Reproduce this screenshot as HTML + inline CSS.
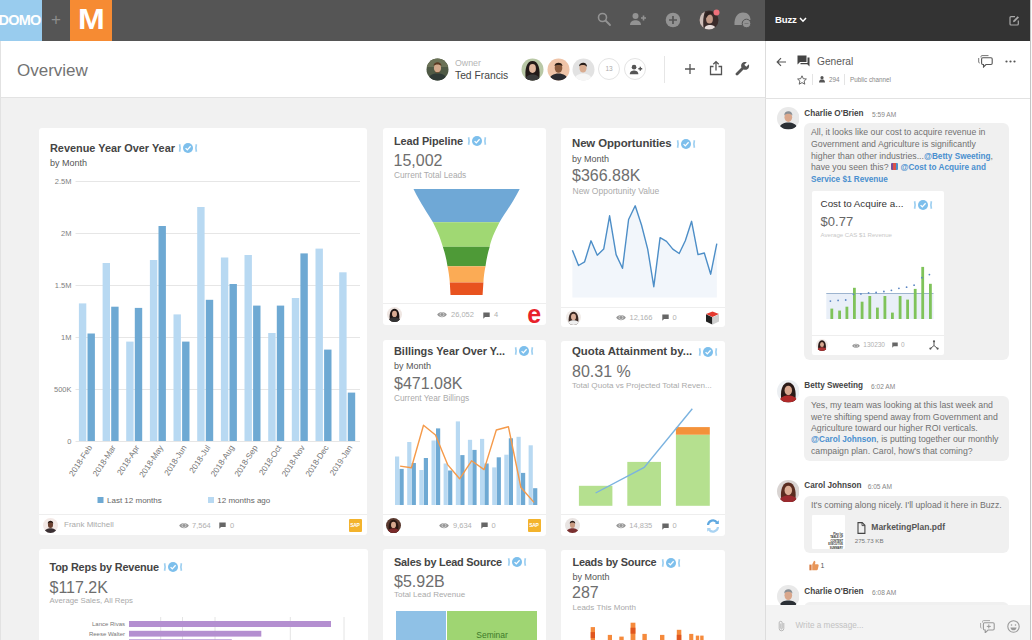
<!DOCTYPE html>
<html lang="en">
<head>
<meta charset="utf-8">
<title>Overview</title>
<style>
*{box-sizing:border-box;margin:0;padding:0}
html,body{width:1032px;height:640px;overflow:hidden}
body{position:relative;background:#f1f1f1;font-family:"Liberation Sans",sans-serif;color:#555}
.abs{position:absolute}
.t{position:absolute;white-space:nowrap;line-height:1}
#topbar{left:0;top:0;width:765px;height:41px;background:#555555}
#buzztop{left:765px;top:0;width:267px;height:41px;background:#333333}
#domo{left:0;top:0;width:42px;height:41px;background:#99ccee}
#mbox{left:70px;top:0;width:42px;height:41px;background:#f68b33}
#hdr{left:0;top:41px;width:765px;height:57px;background:#fff;border-bottom:1px solid #e3e3e3}
.card{position:absolute;background:#fff;border-radius:3px}
.ttl{position:absolute;white-space:nowrap;line-height:1;font-weight:bold;color:#444;font-size:11px}
.sub{position:absolute;white-space:nowrap;line-height:1;color:#555;font-size:8.5px}
.big{position:absolute;white-space:nowrap;line-height:1;color:#6e6e6e;font-size:16px}
.cap{position:absolute;white-space:nowrap;line-height:1;color:#aaa;font-size:7.5px}
.fdiv{position:absolute;height:1px;background:#eee}
.ft{position:absolute;white-space:nowrap;line-height:1;color:#b0b0b0;font-size:7.5px}
.av{position:absolute;border-radius:50%;overflow:hidden}
#buzz{left:765px;top:41px;width:267px;height:599px;background:#fff;border-left:1px solid #ddd}
.bub{position:absolute;background:#f0f0f0;border-radius:6px}
.nm{position:absolute;white-space:nowrap;line-height:1;font-weight:bold;color:#444;font-size:8.2px}
.tm{position:absolute;white-space:nowrap;line-height:1;color:#888;font-size:6.6px}
.msg{position:absolute;white-space:nowrap;line-height:11.4px;color:#707070;font-size:8.73px}
.msg b{color:#4a8fcf;font-size:8.2px}
.ci{display:inline-block;width:7px;height:7px;vertical-align:-0.5px;background:linear-gradient(90deg,#7a4a9a 0 34%,#d9534a 34% 67%,#4a8fcf 67%);border-radius:1px}
</style>
</head>
<body>
<!-- TOP BAR -->
<div id="topbar" class="abs"></div>
<div id="buzztop" class="abs"></div>
<div id="domo" class="abs"></div>
<div id="mbox" class="abs"></div>

<div class="t" style="left:-1.5px;top:12.5px;font-size:14.5px;font-weight:bold;color:#fff;letter-spacing:-0.8px">DOMO</div>
<div class="t" style="left:51px;top:11px;font-size:17px;color:#8d8d8d;font-weight:normal">+</div>
<div class="t" style="left:78.4px;top:4.3px;font-size:30px;font-weight:bold;color:#fff;transform:scaleX(1.07);transform-origin:0 0">M</div>
<!-- search -->
<svg class="abs" style="left:596px;top:11px" width="16" height="16" viewBox="0 0 16 16"><circle cx="6.5" cy="6.5" r="4" fill="none" stroke="#939393" stroke-width="1.6"/><path d="M9.5 9.5 L14 14" stroke="#939393" stroke-width="1.8" stroke-linecap="round"/></svg>
<!-- person add -->
<svg class="abs" style="left:629px;top:12px" width="18" height="14" viewBox="0 0 18 14"><circle cx="6.5" cy="4" r="3" fill="#939393"/><path d="M1 13 C1 9.5 4 8.2 6.5 8.2 C9 8.2 12 9.5 12 13 Z" fill="#939393"/><path d="M14.5 3.5 V8.5 M12 6 H17" stroke="#939393" stroke-width="1.6"/></svg>
<!-- plus circle -->
<svg class="abs" style="left:665px;top:12px" width="16" height="16" viewBox="0 0 16 16"><circle cx="8" cy="8" r="7.3" fill="#939393"/><path d="M8 4 V12 M4 8 H12" stroke="#555" stroke-width="1.7"/></svg>
<!-- user avatar -->
<svg class="abs" style="left:699px;top:9px" width="22" height="22" viewBox="0 0 22 22"><defs><clipPath id="cpa"><circle cx="10" cy="11" r="9.5"/></clipPath></defs><g clip-path="url(#cpa)"><rect width="22" height="22" fill="#3a2b2a"/><path d="M0 0 H7 C4 6 3.5 14 5 22 H0 Z" fill="#cdbdb8"/><ellipse cx="10.5" cy="10" rx="3.4" ry="4.6" fill="#c39a88"/><path d="M6 6 C7 2 13 1 15 5 C12 4.5 9 5 7.5 9 Z" fill="#2e2120"/><path d="M5 22 C5 17 8 16 11 16 C14 16 17 17 17 22 Z" fill="#e6dcda"/></g><circle cx="17.5" cy="3.5" r="3" fill="#f0707a"/></svg>
<!-- buzz helmet -->
<svg class="abs" style="left:733px;top:11px" width="20" height="18" viewBox="0 0 20 18"><path d="M1.5 14 C1 6 5 1.5 10 1.5 C15 1.5 17.5 5 17.5 9 L12 9 C10 9 9 10.5 9 12.5 L9 14 Z" fill="#939393"/><circle cx="13.5" cy="12.5" r="4.3" fill="#939393" stroke="#555" stroke-width="1"/><path d="M11.5 12.5 h4" stroke="#777" stroke-width="1"/></svg>
<!-- Buzz title -->
<div class="t" style="left:775px;top:15px;font-size:9.6px;font-weight:bold;color:#fff;letter-spacing:-0.2px">Buzz</div>
<svg class="abs" style="left:799px;top:17px" width="8" height="6" viewBox="0 0 8 6"><path d="M1 1 L4 4.2 L7 1" fill="none" stroke="#fff" stroke-width="1.5"/></svg>
<svg class="abs" style="left:1009px;top:15px" width="11" height="11" viewBox="0 0 11 11"><path d="M6 1.7 H2 Q1 1.7 1 2.7 V9 Q1 10 2 10 H8.3 Q9.3 10 9.3 9 V5.5" fill="none" stroke="#a8a8a8" stroke-width="1.2"/><path d="M4 7.2 L4.4 5.4 L8.6 1.2 L10 2.6 L5.8 6.8 Z" fill="#a8a8a8"/></svg>

<!-- PAGE HEADER -->
<div id="ledge" class="abs" style="left:0;top:41px;width:1px;height:599px;background:#e2e2e2;z-index:5"></div>
<div id="hdr" class="abs"></div>
<div class="t" style="left:17px;top:62px;font-size:17px;color:#737373">Overview</div>

<!-- owner -->
<svg class="abs" style="left:426px;top:58px" width="23" height="23" viewBox="0 0 23 23"><defs><clipPath id="cpo"><circle cx="11.5" cy="11.5" r="11"/></clipPath></defs><g clip-path="url(#cpo)"><rect width="23" height="23" fill="#4f5a45"/><rect x="0" y="0" width="23" height="9" fill="#6b7257"/><ellipse cx="11.5" cy="10" rx="3.6" ry="4.6" fill="#d2a98c"/><path d="M7.5 8 C7.5 3 15.5 3 15.5 8 C14 6 9 6 7.5 8Z" fill="#5a3a22"/><path d="M8.5 12 C9 16 14 16 14.5 12 C14 15 9 15 8.5 12Z" fill="#6a4528"/><path d="M2 23 C2 17 7 15.5 11.5 15.5 C16 15.5 21 17 21 23 Z" fill="#2f3a36"/></g></svg>
<div class="t" style="left:455px;top:58.5px;font-size:8.8px;color:#b5b5b5">Owner</div>
<div class="t" style="left:455px;top:70.5px;font-size:10.3px;color:#444">Ted Francis</div>
<!-- collaborators -->
<svg class="abs" style="left:521px;top:58px" width="23" height="23" viewBox="0 0 23 23"><defs><clipPath id="cp1"><circle cx="11.5" cy="11.5" r="11"/></clipPath></defs><g clip-path="url(#cp1)"><rect width="23" height="23" fill="#b9c8a6"/><path d="M5 23 C3 10 6 3 11.5 3 C17 3 20 10 18 23 Z" fill="#231a18"/><ellipse cx="11.5" cy="10.5" rx="3.4" ry="4.4" fill="#e0b79e"/><path d="M4 23 C4 18 8 16.5 11.5 16.5 C15 16.5 19 18 19 23 Z" fill="#3a3a3a"/></g></svg>
<svg class="abs" style="left:546.5px;top:58px" width="23" height="23" viewBox="0 0 23 23"><defs><clipPath id="cp2"><circle cx="11.5" cy="11.5" r="11"/></clipPath></defs><g clip-path="url(#cp2)"><rect width="23" height="23" fill="#efc4a8"/><ellipse cx="11.5" cy="10" rx="3.8" ry="4.8" fill="#8a5a3c"/><path d="M7.5 8 C7.5 3.5 15.5 3.5 15.5 8 C14 6.5 9 6.5 7.5 8Z" fill="#2a1c14"/><path d="M2 23 C2 17.5 7 15.5 11.5 15.5 C16 15.5 21 17.5 21 23 Z" fill="#2b2b30"/></g></svg>
<svg class="abs" style="left:572px;top:58px" width="23" height="23" viewBox="0 0 23 23"><defs><clipPath id="cp3"><circle cx="11.5" cy="11.5" r="11"/></clipPath></defs><g clip-path="url(#cp3)"><rect width="23" height="23" fill="#e2e2e2"/><ellipse cx="11" cy="10" rx="3.6" ry="4.6" fill="#d9ac90"/><path d="M7 8.5 C7 3.5 15.5 3.5 15 9 C13.5 6.5 9 6.5 7 8.5Z" fill="#2a1f1a"/><path d="M2 23 C2 17.5 7 15.5 11 15.5 C15.5 15.5 20 17.5 20 23 Z" fill="#f6f6f6"/></g></svg>
<div class="abs" style="left:598px;top:58px;width:22px;height:22px;border:1px solid #e4e4e4;border-radius:50%"></div>
<div class="t" style="left:598px;top:66px;width:22px;text-align:center;font-size:6.5px;color:#aaa">13</div>
<div class="abs" style="left:624px;top:58px;width:22px;height:22px;border:1px solid #e4e4e4;border-radius:50%"></div>
<svg class="abs" style="left:628.5px;top:63.5px" width="14" height="11" viewBox="0 0 18 14"><circle cx="6.5" cy="4" r="3" fill="#555"/><path d="M1 13 C1 9.5 4 8.2 6.5 8.2 C9 8.2 12 9.5 12 13 Z" fill="#555"/><path d="M14.5 3.5 V8.5 M12 6 H17" stroke="#555" stroke-width="1.7"/></svg>
<div class="abs" style="left:664px;top:56px;width:1px;height:27px;background:#e6e6e6"></div>
<!-- plus -->
<svg class="abs" style="left:684px;top:63px" width="12" height="12" viewBox="0 0 12 12"><path d="M6 1 V11 M1 6 H11" stroke="#555" stroke-width="1.3"/></svg>
<!-- share -->
<svg class="abs" style="left:709px;top:60px" width="14" height="16" viewBox="0 0 14 16"><path d="M4.5 6.5 H1.5 V14.5 H12.5 V6.5 H9.5" fill="none" stroke="#555" stroke-width="1.3"/><path d="M7 10.5 V2 M4.3 4.3 L7 1.6 L9.7 4.3" fill="none" stroke="#555" stroke-width="1.3"/></svg>
<!-- wrench -->
<svg class="abs" style="left:735px;top:61px" width="15" height="15" viewBox="0 0 15 15"><path d="M13.8 3.2 L11.3 5.7 L9.3 3.7 L11.8 1.2 C10 0.5 8 1 7 2.3 C6 3.6 5.9 5.2 6.5 6.5 L1 12 C0.4 12.6 0.4 13.4 1 14 C1.6 14.6 2.4 14.6 3 14 L8.5 8.5 C9.8 9.1 11.4 9 12.7 8 C14 7 14.5 5 13.8 3.2 Z" fill="#555"/></svg>


<!-- CARDS -->
<div class="card" id="c1" style="left:39px;top:128px;width:328px;height:407px"></div>
<div class="card" id="c2" style="left:383px;top:128px;width:163px;height:197px"></div>
<div class="card" id="c3" style="left:561px;top:128px;width:164px;height:198.5px"></div>
<div class="card" id="c4" style="left:383px;top:340px;width:163px;height:196px"></div>
<div class="card" id="c5" style="left:561px;top:341px;width:164px;height:195px"></div>
<div class="card" id="c6" style="left:39px;top:549px;width:329px;height:100px"></div>
<div class="card" id="c7" style="left:383px;top:549px;width:163px;height:100px"></div>
<div class="card" id="c8" style="left:561px;top:549.5px;width:164px;height:100px"></div>
<div class="ttl" style="left:50px;top:142.5px;font-size:10.9px">Revenue Year Over Year</div>
<svg class="abs" style="left:177.5px;top:142.2px" width="20" height="12" viewBox="0 0 20 12"><path d="M1.6 2.3 Q2.6 6 1.6 9.7 M18.4 2.3 Q17.4 6 18.4 9.7" fill="none" stroke="#9fd0f1" stroke-width="1.7"/><circle cx="10" cy="6" r="5" fill="#7dbfec"/><path d="M7.6 6.1 L9.3 7.9 L12.6 4.2" fill="none" stroke="#fff" stroke-width="1.3"/></svg>
<div class="sub" style="left:50px;top:159px;font-size:9px">by Month</div>
<svg class="abs" style="left:0;top:0" width="380" height="540" viewBox="0 0 380 540" font-family="Liberation Sans, sans-serif">
<path d="M75.5 181.5 H360" stroke="#e6e6e6" stroke-width="1"/>
<text x="71.5" y="184" text-anchor="end" font-size="7.5" fill="#808080">2.5M</text>
<path d="M75.5 233.5 H360" stroke="#e6e6e6" stroke-width="1"/>
<text x="71.5" y="236" text-anchor="end" font-size="7.5" fill="#808080">2M</text>
<path d="M75.5 285.5 H360" stroke="#e6e6e6" stroke-width="1"/>
<text x="71.5" y="288" text-anchor="end" font-size="7.5" fill="#808080">1.5M</text>
<path d="M75.5 337.5 H360" stroke="#e6e6e6" stroke-width="1"/>
<text x="71.5" y="340" text-anchor="end" font-size="7.5" fill="#808080">1M</text>
<path d="M75.5 389.5 H360" stroke="#e6e6e6" stroke-width="1"/>
<text x="71.5" y="392" text-anchor="end" font-size="7.5" fill="#808080">500K</text>
<path d="M75.5 441.5 H360" stroke="#e6e6e6" stroke-width="1"/>
<text x="71.5" y="444" text-anchor="end" font-size="7.5" fill="#808080">0</text>
<rect x="78.9" y="303.4" width="7.4" height="137.6" fill="#b8d9f2"/>
<rect x="87.5" y="333.5" width="7.4" height="107.5" fill="#6ea9d3"/>
<text transform="translate(92.4 447.5) rotate(-57)" text-anchor="end" font-size="8.2" fill="#777">2018-Feb</text>
<rect x="102.6" y="263" width="7.4" height="178.0" fill="#b8d9f2"/>
<rect x="111.2" y="306.7" width="7.4" height="134.3" fill="#6ea9d3"/>
<text transform="translate(116.1 447.5) rotate(-57)" text-anchor="end" font-size="8.2" fill="#777">2018-Mar</text>
<rect x="126.2" y="341.6" width="7.4" height="99.4" fill="#b8d9f2"/>
<rect x="134.8" y="307.9" width="7.4" height="133.1" fill="#6ea9d3"/>
<text transform="translate(139.7 447.5) rotate(-57)" text-anchor="end" font-size="8.2" fill="#777">2018-Apr</text>
<rect x="149.9" y="260" width="7.4" height="181.0" fill="#b8d9f2"/>
<rect x="158.5" y="226" width="7.4" height="215.0" fill="#6ea9d3"/>
<text transform="translate(163.4 447.5) rotate(-57)" text-anchor="end" font-size="8.2" fill="#777">2018-May</text>
<rect x="173.5" y="314.4" width="7.4" height="126.6" fill="#b8d9f2"/>
<rect x="182.1" y="341.6" width="7.4" height="99.4" fill="#6ea9d3"/>
<text transform="translate(187.0 447.5) rotate(-57)" text-anchor="end" font-size="8.2" fill="#777">2018-Jun</text>
<rect x="197.2" y="207" width="7.4" height="234.0" fill="#b8d9f2"/>
<rect x="205.8" y="299.8" width="7.4" height="141.2" fill="#6ea9d3"/>
<text transform="translate(210.7 447.5) rotate(-57)" text-anchor="end" font-size="8.2" fill="#777">2018-Jul</text>
<rect x="220.9" y="257.5" width="7.4" height="183.5" fill="#b8d9f2"/>
<rect x="229.5" y="284" width="7.4" height="157.0" fill="#6ea9d3"/>
<text transform="translate(234.4 447.5) rotate(-57)" text-anchor="end" font-size="8.2" fill="#777">2018-Aug</text>
<rect x="244.5" y="255" width="7.4" height="186.0" fill="#b8d9f2"/>
<rect x="253.1" y="305.6" width="7.4" height="135.4" fill="#6ea9d3"/>
<text transform="translate(258.0 447.5) rotate(-57)" text-anchor="end" font-size="8.2" fill="#777">2018-Sep</text>
<rect x="268.2" y="333" width="7.4" height="108.0" fill="#b8d9f2"/>
<rect x="276.8" y="305.6" width="7.4" height="135.4" fill="#6ea9d3"/>
<text transform="translate(281.7 447.5) rotate(-57)" text-anchor="end" font-size="8.2" fill="#777">2018-Oct</text>
<rect x="291.8" y="298" width="7.4" height="143.0" fill="#b8d9f2"/>
<rect x="300.4" y="253.4" width="7.4" height="187.6" fill="#6ea9d3"/>
<text transform="translate(305.3 447.5) rotate(-57)" text-anchor="end" font-size="8.2" fill="#777">2018-Nov</text>
<rect x="315.5" y="248.6" width="7.4" height="192.4" fill="#b8d9f2"/>
<rect x="324.1" y="349.6" width="7.4" height="91.4" fill="#6ea9d3"/>
<text transform="translate(329.0 447.5) rotate(-57)" text-anchor="end" font-size="8.2" fill="#777">2018-Dec</text>
<rect x="339.2" y="272.3" width="7.4" height="168.7" fill="#b8d9f2"/>
<rect x="347.8" y="392.6" width="7.4" height="48.4" fill="#6ea9d3"/>
<text transform="translate(352.7 447.5) rotate(-57)" text-anchor="end" font-size="8.2" fill="#777">2019-Jan</text>
<rect x="97.5" y="497" width="6" height="6" fill="#6ea9d3"/><text x="107" y="503" font-size="8" fill="#666">Last 12 months</text>
<rect x="208" y="497" width="6" height="6" fill="#b8d9f2"/><text x="217.3" y="503" font-size="8" fill="#666">12 months ago</text>
</svg>
<div class="fdiv" style="left:39px;top:514px;width:328px"></div>
<svg class="abs" style="left:43.2px;top:517.8px" width="15.0" height="15.0" viewBox="0 0 15.0 15.0"><defs><clipPath id="av1"><circle cx="7.5" cy="7.5" r="7.5"/></clipPath></defs><g clip-path="url(#av1)"><rect width="15.0" height="15.0" fill="#f3e9e6"/><ellipse cx="7.5" cy="6.75" rx="2.5500000000000003" ry="3.225" fill="#6b4030"/><path d="M4.8 5.625 C4.5 1.875 10.5 1.875 10.200000000000001 5.625 C9.0 4.125 6.0 4.125 4.8 5.625Z" fill="#2a1a14"/><path d="M1.5 15.0 C1.5 11.25 4.875 10.35 7.5 10.35 C10.125 10.35 13.5 11.25 13.5 15.0 Z" fill="#3a3033"/></g></svg>
<div class="ft" style="left:64px;top:521px;font-size:8px;color:#aaa">Frank Mitchell</div>
<svg class="abs" style="left:178.5px;top:521.8px" width="10" height="7" viewBox="0 0 10 7"><path d="M0.2 3.5 C2 0 8 0 9.8 3.5 C8 7 2 7 0.2 3.5 Z" fill="#969696"/><circle cx="5" cy="3.5" r="2" fill="none" stroke="#d8d8d8" stroke-width="0.8"/></svg>
<div class="ft" style="left:192px;top:521.5px">7,564</div>
<svg class="abs" style="left:219.0px;top:522.0px" width="7" height="7" viewBox="0 0 7 7"><path d="M0.3 0.5 H6.7 V5 H2 L0.3 6.7 Z" fill="#666"/></svg>
<div class="ft" style="left:230px;top:521.5px">0</div>
<div class="abs" style="left:349px;top:519px;width:13px;height:13px;background:#f3b32c;border-radius:1px"></div><div class="t" style="left:350.2px;top:523px;font-size:5px;font-weight:bold;color:#fff;letter-spacing:-0.3px">SAP</div>
<div class="ttl" style="left:394px;top:135.5px;font-size:10.9px;letter-spacing:-0.1px">Lead Pipeline</div>
<svg class="abs" style="left:466.8px;top:134.6px" width="20" height="12" viewBox="0 0 20 12"><path d="M1.6 2.3 Q2.6 6 1.6 9.7 M18.4 2.3 Q17.4 6 18.4 9.7" fill="none" stroke="#9fd0f1" stroke-width="1.7"/><circle cx="10" cy="6" r="5" fill="#7dbfec"/><path d="M7.6 6.1 L9.3 7.9 L12.6 4.2" fill="none" stroke="#fff" stroke-width="1.3"/></svg>
<div class="big" style="left:393.5px;top:153px;font-size:16px">15,002</div>
<div class="cap" style="left:394px;top:171px;font-size:8.3px">Current Total Leads</div>
<svg class="abs" style="left:383px;top:128px" width="163" height="197" viewBox="383 128 163 197">
<defs><clipPath id="fun"><path d="M413.5 188.9 L519.7 188.9 C512 204 505 213 499.5 222.2 C494 233 491 240 489.7 246.8 C487.5 254 486.3 260 485.5 266.3 C484.3 272 483.7 277 483.4 282.5 L482.6 294.9 L450.5 294.9 L449.8 282.5 C449.4 277 448.7 272 447.5 266.3 C446.6 260 445.3 254 442.8 246.8 C441 240 438.5 233 432.9 222.2 C427.5 213 421 204 413.5 188.9 Z"/></clipPath></defs>
<g clip-path="url(#fun)"><rect x="400" y="188" width="130" height="34.2" fill="#6fa8d6"/><rect x="400" y="222.2" width="130" height="24.6" fill="#a0d873"/><rect x="400" y="246.8" width="130" height="19.5" fill="#4e9a37"/><rect x="400" y="266.3" width="130" height="16.2" fill="#fbab55"/><rect x="400" y="282.5" width="130" height="13" fill="#e8531f"/></g>
</svg>
<div class="fdiv" style="left:383px;top:303px;width:163px"></div>
<svg class="abs" style="left:387.2px;top:307.3px" width="15.0" height="15.0" viewBox="0 0 15.0 15.0"><defs><clipPath id="av2"><circle cx="7.5" cy="7.5" r="7.5"/></clipPath></defs><g clip-path="url(#av2)"><rect width="15.0" height="15.0" fill="#efe6e2"/><path d="M3.15 15.0 C1.5 6.75 3.75 1.65 7.5 1.65 C11.25 1.65 13.5 6.75 11.850000000000001 15.0 Z" fill="#1f1614"/><ellipse cx="7.5" cy="6.9" rx="2.475" ry="3.15" fill="#d9ab92"/><path d="M1.5 15.0 C1.5 11.25 4.875 10.35 7.5 10.35 C10.125 10.35 13.5 11.25 13.5 15.0 Z" fill="#333"/></g></svg>
<svg class="abs" style="left:437.3px;top:311.3px" width="10" height="7" viewBox="0 0 10 7"><path d="M0.2 3.5 C2 0 8 0 9.8 3.5 C8 7 2 7 0.2 3.5 Z" fill="#969696"/><circle cx="5" cy="3.5" r="2" fill="none" stroke="#d8d8d8" stroke-width="0.8"/></svg>
<div class="ft" style="left:451px;top:311px">26,052</div>
<svg class="abs" style="left:483.1px;top:311.5px" width="7" height="7" viewBox="0 0 7 7"><path d="M0.3 0.5 H6.7 V5 H2 L0.3 6.7 Z" fill="#666"/></svg>
<div class="ft" style="left:494px;top:311px">4</div>
<div class="t" style="left:527.3px;top:302.3px;font-size:25px;font-weight:bold;color:#e8212b">e</div>
<div class="ttl" style="left:572px;top:138px;font-size:11.4px;letter-spacing:-0.1px">New Opportunities</div>
<svg class="abs" style="left:676px;top:137.7px" width="20" height="12" viewBox="0 0 20 12"><path d="M1.6 2.3 Q2.6 6 1.6 9.7 M18.4 2.3 Q17.4 6 18.4 9.7" fill="none" stroke="#9fd0f1" stroke-width="1.7"/><circle cx="10" cy="6" r="5" fill="#7dbfec"/><path d="M7.6 6.1 L9.3 7.9 L12.6 4.2" fill="none" stroke="#fff" stroke-width="1.3"/></svg>
<div class="sub" style="left:572px;top:154.5px;font-size:9px">by Month</div>
<div class="big" style="left:572px;top:167.5px;font-size:16px">$366.88K</div>
<div class="cap" style="left:572.5px;top:186.5px;font-size:8.5px">New Opportunity Value</div>
<svg class="abs" style="left:561px;top:128px" width="164" height="198" viewBox="561 128 164 198">
<polygon points="572.4,250.2 578.5,265.5 584.6,261.8 591,240.8 597.3,255.2 603.7,249.1 609.6,215.8 616.1,254.6 622.5,268.3 628.6,219.5 635.2,205.8 641.5,225 647.7,249.1 653.8,286.7 660.1,237.7 666.5,241.4 672.8,249.1 679.2,253.5 685.3,240.8 691.6,221.3 698,254.6 704.3,253 710.7,274.2 716.8,243.6 716.8,297.5 572.4,297.5" fill="#f2f6fb"/>
<polyline points="572.4,250.2 578.5,265.5 584.6,261.8 591,240.8 597.3,255.2 603.7,249.1 609.6,215.8 616.1,254.6 622.5,268.3 628.6,219.5 635.2,205.8 641.5,225 647.7,249.1 653.8,286.7 660.1,237.7 666.5,241.4 672.8,249.1 679.2,253.5 685.3,240.8 691.6,221.3 698,254.6 704.3,253 710.7,274.2 716.8,243.6" fill="none" stroke="#4d8ec7" stroke-width="1.4" stroke-linejoin="round"/>
</svg>
<div class="fdiv" style="left:561px;top:306.5px;width:164px"></div>
<svg class="abs" style="left:565.5px;top:310.1px" width="15.0" height="15.0" viewBox="0 0 15.0 15.0"><defs><clipPath id="av3"><circle cx="7.5" cy="7.5" r="7.5"/></clipPath></defs><g clip-path="url(#av3)"><rect width="15.0" height="15.0" fill="#f1ece9"/><path d="M3.15 15.0 C1.5 6.75 3.75 1.65 7.5 1.65 C11.25 1.65 13.5 6.75 11.850000000000001 15.0 Z" fill="#3a2822"/><ellipse cx="7.5" cy="6.9" rx="2.475" ry="3.15" fill="#dcb09a"/><path d="M1.5 15.0 C1.5 11.25 4.875 10.35 7.5 10.35 C10.125 10.35 13.5 11.25 13.5 15.0 Z" fill="#eee"/></g></svg>
<svg class="abs" style="left:616.2px;top:314.1px" width="10" height="7" viewBox="0 0 10 7"><path d="M0.2 3.5 C2 0 8 0 9.8 3.5 C8 7 2 7 0.2 3.5 Z" fill="#969696"/><circle cx="5" cy="3.5" r="2" fill="none" stroke="#d8d8d8" stroke-width="0.8"/></svg>
<div class="ft" style="left:629.5px;top:314px">12,166</div>
<svg class="abs" style="left:661.9px;top:314.3px" width="7" height="7" viewBox="0 0 7 7"><path d="M0.3 0.5 H6.7 V5 H2 L0.3 6.7 Z" fill="#666"/></svg>
<div class="ft" style="left:672.6px;top:314px">0</div>
<svg class="abs" style="left:705px;top:311px" width="15" height="14" viewBox="0 0 15 14"><path d="M7.5 0.5 L14 3 L7.5 6 L1 3 Z" fill="#e5392f"/><path d="M1 3.3 L7.3 6.3 V13.5 L1 10.5 Z" fill="#222"/><path d="M7.8 6.3 L14 3.3 V10.5 L7.8 13.5 Z" fill="#cfcfcf"/></svg>
<div class="ttl" style="left:394px;top:345.5px;font-size:10.9px">Billings Year Over Y...</div>
<svg class="abs" style="left:514px;top:345px" width="20" height="12" viewBox="0 0 20 12"><path d="M1.6 2.3 Q2.6 6 1.6 9.7 M18.4 2.3 Q17.4 6 18.4 9.7" fill="none" stroke="#9fd0f1" stroke-width="1.7"/><circle cx="10" cy="6" r="5" fill="#7dbfec"/><path d="M7.6 6.1 L9.3 7.9 L12.6 4.2" fill="none" stroke="#fff" stroke-width="1.3"/></svg>
<div class="sub" style="left:394px;top:362px;font-size:9px">by Month</div>
<div class="big" style="left:394px;top:376px;font-size:16px">$471.08K</div>
<div class="cap" style="left:394px;top:393.5px;font-size:8.3px">Current Year Billings</div>
<svg class="abs" style="left:383px;top:340px" width="163" height="196" viewBox="383 340 163 196">
<rect x="395.0" y="456.5" width="4.2" height="48.5" fill="#b8d9f2"/>
<rect x="399.5" y="468.9" width="4.2" height="36.1" fill="#6ea9d3"/>
<rect x="407.2" y="442.0" width="4.2" height="63.0" fill="#b8d9f2"/>
<rect x="411.7" y="463.0" width="4.2" height="42.0" fill="#6ea9d3"/>
<rect x="419.3" y="470.0" width="4.2" height="35.0" fill="#b8d9f2"/>
<rect x="423.8" y="458.0" width="4.2" height="47.0" fill="#6ea9d3"/>
<rect x="431.5" y="440.5" width="4.2" height="64.5" fill="#b8d9f2"/>
<rect x="436.0" y="428.4" width="4.2" height="76.6" fill="#6ea9d3"/>
<rect x="443.6" y="463.5" width="4.2" height="41.5" fill="#b8d9f2"/>
<rect x="448.1" y="470.5" width="4.2" height="34.5" fill="#6ea9d3"/>
<rect x="455.8" y="421.4" width="4.2" height="83.6" fill="#b8d9f2"/>
<rect x="460.3" y="455.1" width="4.2" height="49.9" fill="#6ea9d3"/>
<rect x="467.9" y="439.8" width="4.2" height="65.2" fill="#b8d9f2"/>
<rect x="472.4" y="449.9" width="4.2" height="55.1" fill="#6ea9d3"/>
<rect x="480.0" y="438.9" width="4.2" height="66.1" fill="#b8d9f2"/>
<rect x="484.5" y="463.5" width="4.2" height="41.5" fill="#6ea9d3"/>
<rect x="492.2" y="467.4" width="4.2" height="37.6" fill="#b8d9f2"/>
<rect x="496.7" y="457.3" width="4.2" height="47.7" fill="#6ea9d3"/>
<rect x="504.3" y="454.7" width="4.2" height="50.3" fill="#b8d9f2"/>
<rect x="508.8" y="438.3" width="4.2" height="66.7" fill="#6ea9d3"/>
<rect x="516.5" y="436.8" width="4.2" height="68.2" fill="#b8d9f2"/>
<rect x="521.0" y="472.9" width="4.2" height="32.1" fill="#6ea9d3"/>
<rect x="528.6" y="445.3" width="4.2" height="59.7" fill="#b8d9f2"/>
<rect x="533.1" y="488.2" width="4.2" height="16.8" fill="#6ea9d3"/>
<polyline points="400.1,466.1 411.4,467.8 423.5,425.2 435.5,435.0 447.6,464.6 459.6,478.8 471.6,460.8 484.1,469.6 496.3,430.0 508.4,426.7 520.9,487.5 534.0,502.4" fill="none" stroke="#f59a4a" stroke-width="1.4" stroke-linejoin="round"/>
</svg>
<div class="fdiv" style="left:383px;top:514px;width:163px"></div>
<svg class="abs" style="left:386.0px;top:517.7px" width="15.0" height="15.0" viewBox="0 0 15.0 15.0"><defs><clipPath id="av4"><circle cx="7.5" cy="7.5" r="7.5"/></clipPath></defs><g clip-path="url(#av4)"><rect width="15.0" height="15.0" fill="#5a3a30"/><path d="M3.15 15.0 C1.5 6.75 3.75 1.65 7.5 1.65 C11.25 1.65 13.5 6.75 11.850000000000001 15.0 Z" fill="#2a1712"/><ellipse cx="7.5" cy="6.9" rx="2.475" ry="3.15" fill="#d7a88e"/><path d="M1.5 15.0 C1.5 11.25 4.875 10.35 7.5 10.35 C10.125 10.35 13.5 11.25 13.5 15.0 Z" fill="#7a2a2a"/></g></svg>
<svg class="abs" style="left:439.3px;top:521.7px" width="10" height="7" viewBox="0 0 10 7"><path d="M0.2 3.5 C2 0 8 0 9.8 3.5 C8 7 2 7 0.2 3.5 Z" fill="#969696"/><circle cx="5" cy="3.5" r="2" fill="none" stroke="#d8d8d8" stroke-width="0.8"/></svg>
<div class="ft" style="left:453px;top:521.5px">9,634</div>
<svg class="abs" style="left:480.5px;top:521.9px" width="7" height="7" viewBox="0 0 7 7"><path d="M0.3 0.5 H6.7 V5 H2 L0.3 6.7 Z" fill="#666"/></svg>
<div class="ft" style="left:491.5px;top:521.5px">0</div>
<div class="abs" style="left:528px;top:518.7px;width:13px;height:13px;background:#f3b32c;border-radius:1px"></div><div class="t" style="left:529.2px;top:522.7px;font-size:5px;font-weight:bold;color:#fff;letter-spacing:-0.3px">SAP</div>
<div class="ttl" style="left:572px;top:346px;font-size:11.4px">Quota Attainment by...</div>
<svg class="abs" style="left:697.5px;top:345.6px" width="20" height="12" viewBox="0 0 20 12"><path d="M1.6 2.3 Q2.6 6 1.6 9.7 M18.4 2.3 Q17.4 6 18.4 9.7" fill="none" stroke="#9fd0f1" stroke-width="1.7"/><circle cx="10" cy="6" r="5" fill="#7dbfec"/><path d="M7.6 6.1 L9.3 7.9 L12.6 4.2" fill="none" stroke="#fff" stroke-width="1.3"/></svg>
<div class="big" style="left:572px;top:363.5px;font-size:16px">80.31 %</div>
<div class="cap" style="left:572px;top:382px;font-size:8.1px">Total Quota vs Projected Total Reven...</div>
<svg class="abs" style="left:561px;top:341px" width="164" height="195" viewBox="561 341 164 195">
<rect x="578.9" y="485.8" width="33.5" height="20" fill="#b5e08f"/><rect x="627.3" y="461.9" width="33.7" height="43.9" fill="#b5e08f"/><rect x="675.9" y="434.6" width="33.9" height="71.2" fill="#b5e08f"/><rect x="675.9" y="427.1" width="33.9" height="7.6" fill="#f4923a"/>
<polyline points="595.6,493 644.2,467.4 692.3,408.8" fill="none" stroke="#7bb3e0" stroke-width="1.4"/>
</svg>
<div class="fdiv" style="left:561px;top:514px;width:164px"></div>
<svg class="abs" style="left:564.5px;top:518.3px" width="15.0" height="15.0" viewBox="0 0 15.0 15.0"><defs><clipPath id="av5"><circle cx="7.5" cy="7.5" r="7.5"/></clipPath></defs><g clip-path="url(#av5)"><rect width="15.0" height="15.0" fill="#e9e4e2"/><ellipse cx="7.5" cy="6.75" rx="2.5500000000000003" ry="3.225" fill="#c99a80"/><path d="M4.8 5.625 C4.5 1.875 10.5 1.875 10.200000000000001 5.625 C9.0 4.125 6.0 4.125 4.8 5.625Z" fill="#2a1c18"/><path d="M1.5 15.0 C1.5 11.25 4.875 10.35 7.5 10.35 C10.125 10.35 13.5 11.25 13.5 15.0 Z" fill="#7a3030"/></g></svg>
<svg class="abs" style="left:615.5px;top:522.3px" width="10" height="7" viewBox="0 0 10 7"><path d="M0.2 3.5 C2 0 8 0 9.8 3.5 C8 7 2 7 0.2 3.5 Z" fill="#969696"/><circle cx="5" cy="3.5" r="2" fill="none" stroke="#d8d8d8" stroke-width="0.8"/></svg>
<div class="ft" style="left:629.3px;top:522px">14,835</div>
<svg class="abs" style="left:661.5px;top:522.5px" width="7" height="7" viewBox="0 0 7 7"><path d="M0.3 0.5 H6.7 V5 H2 L0.3 6.7 Z" fill="#666"/></svg>
<div class="ft" style="left:672.6px;top:522px">0</div>
<svg class="abs" style="left:705.6px;top:518.8px" width="14" height="14" viewBox="0 0 14 14"><path d="M2 6 A5 5 0 0 1 11 3.5" fill="none" stroke="#5fa8e0" stroke-width="2.2"/><path d="M12 8 A5 5 0 0 1 3 10.5" fill="none" stroke="#a9d3f2" stroke-width="2.2"/><path d="M12.8 1.2 V5 H9 Z" fill="#5fa8e0"/><path d="M1.2 12.8 V9 H5 Z" fill="#a9d3f2"/></svg>
<div class="ttl" style="left:49.5px;top:562px;font-size:10.9px;letter-spacing:-0.19px">Top Reps by Revenue</div>
<svg class="abs" style="left:162.5px;top:561.4px" width="20" height="12" viewBox="0 0 20 12"><path d="M1.6 2.3 Q2.6 6 1.6 9.7 M18.4 2.3 Q17.4 6 18.4 9.7" fill="none" stroke="#9fd0f1" stroke-width="1.7"/><circle cx="10" cy="6" r="5" fill="#7dbfec"/><path d="M7.6 6.1 L9.3 7.9 L12.6 4.2" fill="none" stroke="#fff" stroke-width="1.3"/></svg>
<div class="big" style="left:49.5px;top:579.5px;font-size:16px">$117.2K</div>
<div class="cap" style="left:49.5px;top:596.5px;font-size:7.8px">Average Sales, All Reps</div>
<svg class="abs" style="left:39px;top:549px" width="329" height="91" viewBox="39 549 329 91" font-family="Liberation Sans, sans-serif">
<path d="M160.7 617 V640" stroke="#e4e4e4" stroke-width="1"/>
<path d="M182.5 617 V640" stroke="#e4e4e4" stroke-width="1"/>
<path d="M215 617 V640" stroke="#e4e4e4" stroke-width="1"/>
<path d="M290.3 617 V640" stroke="#e4e4e4" stroke-width="1"/>
<path d="M344 617 V640" stroke="#e4e4e4" stroke-width="1"/>
<rect x="129" y="621" width="202" height="6" fill="#b48fd0"/><rect x="129" y="630.8" width="132.3" height="5.8" fill="#b48fd0"/><rect x="129" y="639.3" width="102.8" height="5.8" fill="#b48fd0"/>
<text x="125" y="626.3" text-anchor="end" font-size="6" fill="#777">Lance Rivas</text><text x="125" y="635.8" text-anchor="end" font-size="6" fill="#777">Reese Walter</text>
</svg>
<div class="ttl" style="left:394px;top:556.5px;font-size:10.9px;letter-spacing:-0.24px">Sales by Lead Source</div>
<svg class="abs" style="left:506.5px;top:556px" width="20" height="12" viewBox="0 0 20 12"><path d="M1.6 2.3 Q2.6 6 1.6 9.7 M18.4 2.3 Q17.4 6 18.4 9.7" fill="none" stroke="#9fd0f1" stroke-width="1.7"/><circle cx="10" cy="6" r="5" fill="#7dbfec"/><path d="M7.6 6.1 L9.3 7.9 L12.6 4.2" fill="none" stroke="#fff" stroke-width="1.3"/></svg>
<div class="big" style="left:394px;top:574px;font-size:16px">$5.92B</div>
<div class="cap" style="left:394px;top:591.3px;font-size:8px">Total Lead Revenue</div>
<div class="abs" style="left:395.5px;top:611px;width:50.6px;height:30px;background:#8fc1e6"></div>
<div class="abs" style="left:447.4px;top:611px;width:89.4px;height:30px;background:#9fd572"></div>
<div class="t" style="left:447.4px;top:631.3px;width:89.4px;text-align:center;font-size:8.5px;color:#3d7a2a">Seminar</div>
<div class="ttl" style="left:572.5px;top:557.3px;font-size:10.9px;letter-spacing:-0.22px">Leads by Source</div>
<svg class="abs" style="left:660.5px;top:556.7px" width="20" height="12" viewBox="0 0 20 12"><path d="M1.6 2.3 Q2.6 6 1.6 9.7 M18.4 2.3 Q17.4 6 18.4 9.7" fill="none" stroke="#9fd0f1" stroke-width="1.7"/><circle cx="10" cy="6" r="5" fill="#7dbfec"/><path d="M7.6 6.1 L9.3 7.9 L12.6 4.2" fill="none" stroke="#fff" stroke-width="1.3"/></svg>
<div class="sub" style="left:572.5px;top:573px;font-size:9px">by Month</div>
<div class="big" style="left:572px;top:585px;font-size:16px">287</div>
<div class="cap" style="left:572.5px;top:604px;font-size:8px">Leads This Month</div>
<svg class="abs" style="left:561px;top:549px" width="164" height="91" viewBox="561 549 164 91">
<rect x="590.7" y="627.1" width="4.3" height="13.9" fill="#f58a3c"/>
<rect x="590.7" y="632.1" width="4.3" height="6" fill="#e0561f"/>
<rect x="607.8" y="634.9" width="4.2" height="6.1" fill="#f58a3c"/>
<rect x="619.3" y="636.6" width="4.4" height="4.4" fill="#f58a3c"/>
<rect x="630.6" y="622.7" width="4.8" height="18.3" fill="#f58a3c"/>
<rect x="630.6" y="627.7" width="4.8" height="6" fill="#e0561f"/>
<rect x="642.4" y="633.9" width="4.4" height="7.1" fill="#f58a3c"/>
<rect x="660" y="634.9" width="4.4" height="6.1" fill="#f58a3c"/>
<rect x="676.8" y="629.8" width="4.5" height="11.2" fill="#f58a3c"/>
<rect x="676.8" y="634.8" width="4.5" height="6" fill="#e0561f"/>
<rect x="689.2" y="633.9" width="4.1" height="7.1" fill="#f58a3c"/>
<rect x="695.8" y="635.6" width="3.4" height="5.4" fill="#f58a3c"/>
<rect x="700.2" y="635.6" width="3.4" height="5.4" fill="#f58a3c"/>
</svg>
<!-- BUZZ PANEL -->
<div id="buzz" class="abs"></div>
<div class="abs" style="left:765px;top:97.5px;width:265px;height:1px;background:#e2e2e2"></div>
<div class="abs" style="left:1029.5px;top:0;width:1px;height:640px;background:#c4c4c4"></div><div class="abs" style="left:1030.5px;top:0;width:2px;height:640px;background:#fafafa"></div>
<svg class="abs" style="left:776px;top:57px" width="11" height="10" viewBox="0 0 11 10"><path d="M10 5 H1.5 M5 1.2 L1.2 5 L5 8.8" fill="none" stroke="#555" stroke-width="1.2"/></svg>
<svg class="abs" style="left:797px;top:54.5px" width="13" height="12" viewBox="0 0 13 12"><path d="M0.5 0.5 H9.5 V7 H3 L0.5 9.5 Z" fill="#444"/><path d="M10.5 2.5 H12.5 V11.5 L10.3 9.3 H3.5 V8 H10.5 Z" fill="#444"/></svg>
<div class="t" style="left:817px;top:57px;font-size:10.2px;color:#5a5a5a">General</div>
<svg class="abs" style="left:796.5px;top:74.5px" width="10" height="10" viewBox="0 0 10 10"><path d="M5 0.8 L6.3 3.7 L9.4 4 L7.1 6.1 L7.8 9.2 L5 7.6 L2.2 9.2 L2.9 6.1 L0.6 4 L3.7 3.7 Z" fill="none" stroke="#555" stroke-width="0.9"/></svg>
<div class="abs" style="left:812px;top:74px;width:1px;height:11px;background:#e4e4e4"></div>
<svg class="abs" style="left:819px;top:76px" width="6" height="6.5" viewBox="0 0 6 6.5"><circle cx="3" cy="1.7" r="1.6" fill="#555"/><path d="M0 6.5 C0 4 1.5 3.6 3 3.6 C4.5 3.6 6 4 6 6.5 Z" fill="#555"/></svg>
<div class="t" style="left:829px;top:76.5px;font-size:6.3px;color:#888">294</div>
<div class="abs" style="left:844px;top:74px;width:1px;height:11px;background:#e4e4e4"></div>
<div class="t" style="left:850px;top:76.5px;font-size:6.3px;color:#888">Public channel</div>
<svg class="abs" style="left:977.5px;top:54.5px" width="15" height="13" viewBox="0 0 15 13"><path d="M3 2.5 V1.5 Q3 0.6 4 0.6 H10.5" fill="none" stroke="#777" stroke-width="1"/><path d="M4.8 2.8 H13 Q14.2 2.8 14.2 4 V8.3 Q14.2 9.5 13 9.5 H8 L5.5 12 V9.5 H4.8 Q3.6 9.5 3.6 8.3 V4 Q3.6 2.8 4.8 2.8 Z" fill="none" stroke="#555" stroke-width="1.1"/><path d="M1.7 8 Q0.7 8 0.7 7 V3" fill="none" stroke="#777" stroke-width="1"/></svg>
<svg class="abs" style="left:1005px;top:60px" width="11" height="3" viewBox="0 0 11 3"><circle cx="1.5" cy="1.5" r="1.1" fill="#555"/><circle cx="5.5" cy="1.5" r="1.1" fill="#555"/><circle cx="9.5" cy="1.5" r="1.1" fill="#555"/></svg>
<svg class="abs" style="left:776.5px;top:107.4px" width="22.6" height="22.6" viewBox="0 0 22.6 22.6"><defs><clipPath id="bv1"><circle cx="11.3" cy="11.3" r="11.3"/></clipPath></defs><g clip-path="url(#bv1)"><rect width="22.6" height="22.6" fill="#e9e9e9"/><ellipse cx="11.3" cy="10.170000000000002" rx="3.8420000000000005" ry="4.859" fill="#d9a78c"/><path d="M7.232 8.475000000000001 C6.78 2.825 15.82 2.825 15.368000000000002 8.475000000000001 C13.56 6.215000000000001 9.040000000000001 6.215000000000001 7.232 8.475000000000001Z" fill="#8a8f94"/><path d="M2.2600000000000002 22.6 C2.2600000000000002 16.950000000000003 7.345000000000001 15.594 11.3 15.594 C15.255000000000003 15.594 20.340000000000003 16.950000000000003 20.340000000000003 22.6 Z" fill="#2b2f35"/></g></svg>
<div class="nm" style="left:804.3px;top:109.7px">Charlie O'Brien</div><div class="tm" style="left:872px;top:111.7px">5:59 AM</div>
<div class="bub" style="left:804.3px;top:122.6px;width:205px;height:237.5px"></div>
<div class="msg" style="left:811px;top:127.2px">All, it looks like our cost to acquire revenue in</div>
<div class="msg" style="left:811px;top:139.4px">Government and Agriculture is significantly</div>
<div class="msg" style="left:811px;top:150.5px">higher than other industries...<b>@Betty Sweeting</b>,</div>
<div class="msg" style="left:811px;top:161.6px">have you seen this? <span class="ci"></span> <b>@Cost to Acquire and</b></div>
<div class="msg" style="left:811px;top:174.1px"><b>Service $1 Revenue</b></div>
<div class="card" style="left:812px;top:190.6px;width:132px;height:164.3px;border-radius:2px"></div>
<div class="t" style="left:820.6px;top:199px;font-size:9.8px;color:#333">Cost to Acquire a...</div>
<svg class="abs" style="left:912.8px;top:198.6px" width="20" height="12" viewBox="0 0 20 12"><path d="M1.6 2.3 Q2.6 6 1.6 9.7 M18.4 2.3 Q17.4 6 18.4 9.7" fill="none" stroke="#9fd0f1" stroke-width="1.7"/><circle cx="10" cy="6" r="5" fill="#7dbfec"/><path d="M7.6 6.1 L9.3 7.9 L12.6 4.2" fill="none" stroke="#fff" stroke-width="1.3"/></svg>
<div class="t" style="left:820.6px;top:214.5px;font-size:13px;color:#666">$0.77</div>
<div class="t" style="left:820.6px;top:232px;font-size:6.1px;color:#c8c8c8">Average CAS $1 Revenue</div>
<svg class="abs" style="left:812px;top:240px" width="132" height="90" viewBox="812 240 132 90">
<rect x="826.3" y="293" width="107.2" height="26" fill="#e9eff8"/><path d="M826.3 293.5 H933.5" stroke="#9db4cf" stroke-width="1"/>
<rect x="830.4" y="308.6" width="2.8" height="10.4" fill="#7fc35a"/>
<rect x="838.2" y="310.6" width="2.8" height="8.4" fill="#7fc35a"/>
<rect x="845.5" y="306.7" width="2.8" height="12.3" fill="#7fc35a"/>
<rect x="853.0" y="287.8" width="2.8" height="31.2" fill="#7fc35a"/>
<rect x="860.7" y="301.7" width="2.8" height="17.3" fill="#7fc35a"/>
<rect x="868.4" y="296.0" width="2.8" height="23.0" fill="#7fc35a"/>
<rect x="876.0" y="307.6" width="2.8" height="11.4" fill="#7fc35a"/>
<rect x="883.5" y="296.0" width="2.8" height="23.0" fill="#7fc35a"/>
<rect x="891.0" y="312.6" width="2.8" height="6.4" fill="#7fc35a"/>
<rect x="898.7" y="296.0" width="2.8" height="23.0" fill="#7fc35a"/>
<rect x="906.2" y="299.6" width="2.8" height="19.4" fill="#7fc35a"/>
<rect x="913.8" y="288.9" width="2.8" height="30.1" fill="#7fc35a"/>
<rect x="921.3" y="266.9" width="2.8" height="52.1" fill="#7fc35a"/>
<rect x="929.0" y="283.8" width="2.8" height="35.2" fill="#7fc35a"/>
<circle cx="830.4" cy="301.1" r="0.9" fill="#5b86c4"/>
<circle cx="838.1" cy="300.4" r="0.9" fill="#5b86c4"/>
<circle cx="845.7" cy="300.0" r="0.9" fill="#5b86c4"/>
<circle cx="853.4" cy="294.3" r="0.9" fill="#5b86c4"/>
<circle cx="860.9" cy="293.9" r="0.9" fill="#5b86c4"/>
<circle cx="868.6" cy="292.9" r="0.9" fill="#5b86c4"/>
<circle cx="876.1" cy="292.5" r="0.9" fill="#5b86c4"/>
<circle cx="883.9" cy="291.5" r="0.9" fill="#5b86c4"/>
<circle cx="891.4" cy="290.3" r="0.9" fill="#5b86c4"/>
<circle cx="898.9" cy="288.3" r="0.9" fill="#5b86c4"/>
<circle cx="906.6" cy="287.2" r="0.9" fill="#5b86c4"/>
<circle cx="914.1" cy="285.2" r="0.9" fill="#5b86c4"/>
<circle cx="921.9" cy="277.7" r="0.9" fill="#5b86c4"/>
<circle cx="929.4" cy="274.6" r="0.9" fill="#5b86c4"/>
</svg>
<div class="fdiv" style="left:812px;top:334.5px;width:132px"></div>
<svg class="abs" style="left:816px;top:339.4px" width="12" height="12" viewBox="0 0 12 12"><defs><clipPath id="bv2"><circle cx="6" cy="6" r="6"/></clipPath></defs><g clip-path="url(#bv2)"><rect width="12" height="12" fill="#f1ebe8"/><path d="M2.52 12 C1.2000000000000002 5.4 3.0 1.32 6 1.32 C9.0 1.32 10.8 5.4 9.48 12 Z" fill="#2a1a18"/><ellipse cx="6" cy="5.5200000000000005" rx="1.98" ry="2.52" fill="#d7a890"/><path d="M1.2000000000000002 12 C1.2000000000000002 9.0 3.9000000000000004 8.28 6 8.28 C8.100000000000001 8.28 10.8 9.0 10.8 12 Z" fill="#a33"/></g></svg>
<svg class="abs" style="left:851.8px;top:342.6px" width="8" height="5.6" viewBox="0 0 10 7"><path d="M0.2 3.5 C2 0 8 0 9.8 3.5 C8 7 2 7 0.2 3.5 Z" fill="#969696"/><circle cx="5" cy="3.5" r="2" fill="none" stroke="#d8d8d8" stroke-width="0.8"/></svg>
<div class="ft" style="left:863.3px;top:342.3px;font-size:6.5px">130230</div>
<svg class="abs" style="left:891.5px;top:342.0px" width="6" height="6" viewBox="0 0 7 7"><path d="M0.3 0.5 H6.7 V5 H2 L0.3 6.7 Z" fill="#666"/></svg>
<div class="ft" style="left:901px;top:342.3px;font-size:6.5px">0</div>
<svg class="abs" style="left:928.5px;top:340px" width="10" height="10" viewBox="0 0 10 10"><path d="M5 1.5 V5.5 L1.5 8.5 M5 5.5 L8.5 8.5" fill="none" stroke="#555" stroke-width="1"/><circle cx="5" cy="1.3" r="1.1" fill="#555"/><circle cx="1.4" cy="8.6" r="1.1" fill="#555"/><circle cx="8.6" cy="8.6" r="1.1" fill="#555"/></svg>
<svg class="abs" style="left:776.5px;top:380.2px" width="22.6" height="22.6" viewBox="0 0 22.6 22.6"><defs><clipPath id="bv3"><circle cx="11.3" cy="11.3" r="11.3"/></clipPath></defs><g clip-path="url(#bv3)"><rect width="22.6" height="22.6" fill="#eceff2"/><path d="M4.746 22.6 C2.2600000000000002 10.170000000000002 5.65 2.486 11.3 2.486 C16.950000000000003 2.486 20.340000000000003 10.170000000000002 17.854000000000003 22.6 Z" fill="#2a1a17"/><ellipse cx="11.3" cy="10.396" rx="3.7290000000000005" ry="4.746" fill="#d8a78f"/><path d="M2.2600000000000002 22.6 C2.2600000000000002 16.950000000000003 7.345000000000001 15.594 11.3 15.594 C15.255000000000003 15.594 20.340000000000003 16.950000000000003 20.340000000000003 22.6 Z" fill="#b02a2a"/></g></svg>
<div class="nm" style="left:804.3px;top:382.4px">Betty Sweeting</div><div class="tm" style="left:871px;top:384.4px">6:02 AM</div>
<div class="bub" style="left:804.3px;top:395.9px;width:205px;height:64.8px"></div>
<div class="msg" style="left:811px;top:400.0px">Yes, my team was looking at this last week and</div>
<div class="msg" style="left:811px;top:411.6px">we're shifting spend away from Government and</div>
<div class="msg" style="left:811px;top:423.0px">Agriculture toward our higher ROI verticals.</div>
<div class="msg" style="left:811px;top:434.2px"><b>@Carol Johnson</b>, is putting together our monthly</div>
<div class="msg" style="left:811px;top:445.5px">campaign plan. Carol, how's that coming?</div>
<svg class="abs" style="left:776.5px;top:479.5px" width="22.6" height="22.6" viewBox="0 0 22.6 22.6"><defs><clipPath id="bv4"><circle cx="11.3" cy="11.3" r="11.3"/></clipPath></defs><g clip-path="url(#bv4)"><rect width="22.6" height="22.6" fill="#d9d4d2"/><path d="M4.746 22.6 C2.2600000000000002 10.170000000000002 5.65 2.486 11.3 2.486 C16.950000000000003 2.486 20.340000000000003 10.170000000000002 17.854000000000003 22.6 Z" fill="#5a2c20"/><ellipse cx="11.3" cy="10.396" rx="3.7290000000000005" ry="4.746" fill="#dcae96"/><path d="M2.2600000000000002 22.6 C2.2600000000000002 16.950000000000003 7.345000000000001 15.594 11.3 15.594 C15.255000000000003 15.594 20.340000000000003 16.950000000000003 20.340000000000003 22.6 Z" fill="#9a2a2f"/></g></svg>
<div class="nm" style="left:804.3px;top:482.0px">Carol Johnson</div><div class="tm" style="left:867.7px;top:484.0px">6:05 AM</div>
<div class="bub" style="left:804.3px;top:495.6px;width:205px;height:57px"></div>
<div class="msg" style="left:811px;top:499.6px">It's coming along nicely. I'll upload it here in Buzz.</div>
<div class="abs" style="left:811.8px;top:515.4px;width:33px;height:33.6px;background:#fff;border-radius:1px"></div>
<div class="t" style="left:826px;top:532.5px;font-size:2.6px;color:#333;line-height:3.6px;text-align:right;width:17px;white-space:normal;font-weight:bold">Plan for TABLE OF CONTENT EXECUTIVE SUMMARY</div>
<svg class="abs" style="left:857px;top:522px" width="8.5" height="12" viewBox="0 0 8.5 12"><path d="M1 0.6 H5.2 L7.9 3.3 V11.4 H1 Z" fill="none" stroke="#444" stroke-width="1.1"/><path d="M5 0.8 V3.6 H7.8" fill="none" stroke="#444" stroke-width="0.9"/></svg>
<div class="t" style="left:871.3px;top:523.3px;font-size:8.5px;font-weight:bold;color:#555">MarketingPlan.pdf</div>
<div class="t" style="left:854.7px;top:537.5px;font-size:6.2px;color:#777">275.73 KB</div>
<svg class="abs" style="left:808.5px;top:559.5px" width="10" height="11" viewBox="0 0 10 11"><path d="M3.2 4.6 L5 0.8 C6.2 0.8 6.6 1.8 6.3 2.8 L6 4.2 H8.6 C9.6 4.2 9.8 5 9.6 5.8 L8.8 9.2 C8.6 10 8 10.3 7.3 10.3 H3.2 Z" fill="#e8965a"/><rect x="0.4" y="4.6" width="2.2" height="5.7" fill="#d77a3f"/></svg>
<div class="t" style="left:820.5px;top:561.5px;font-size:7px;color:#555">1</div>
<svg class="abs" style="left:776.5px;top:585px" width="22.6" height="21" viewBox="0 0 22.6 21"><defs><clipPath id="av4c"><circle cx="11.3" cy="11.3" r="11.3"/></clipPath></defs><g clip-path="url(#av4c)"><rect width="22.6" height="22.6" fill="#e9e9e9"/><ellipse cx="11.3" cy="10.2" rx="3.8" ry="4.9" fill="#d9a78c"/><path d="M7.2 8.5 C6.8 2.8 15.8 2.8 15.4 8.5 C13.6 6.2 9 6.2 7.2 8.5Z" fill="#8a8f94"/><path d="M2.3 22.6 C2.3 17 7.3 15.6 11.3 15.6 C15.3 15.6 20.3 17 20.3 22.6 Z" fill="#2b2f35"/></g></svg>
<div class="nm" style="left:804.3px;top:587.5px">Charlie O'Brien</div><div class="tm" style="left:872px;top:589.5px">6:08 AM</div>
<div class="bub" style="left:804.3px;top:601.6px;width:205px;height:20px"></div>
<div class="abs" style="left:766px;top:605px;width:263.5px;height:35px;background:#f3f3f3"></div>
<svg class="abs" style="left:778px;top:619.5px" width="7" height="12" viewBox="0 0 7 12"><path d="M5.8 3 V8.5 A2.3 2.3 0 0 1 1.2 8.5 V2.8 A1.5 1.5 0 0 1 4.2 2.8 V8.3 A0.7 0.7 0 0 1 2.8 8.3 V3.5" fill="none" stroke="#b0b0b0" stroke-width="0.9"/></svg>
<div class="t" style="left:795.5px;top:621.5px;font-size:8.2px;color:#c2c2c2">Write a message...</div>
<svg class="abs" style="left:980px;top:619.5px" width="15" height="13.5" viewBox="0 0 15 13.5"><path d="M2.5 2.5 V1.6 Q2.5 0.6 3.5 0.6 H10" fill="none" stroke="#aaa" stroke-width="1"/><path d="M4.6 2.8 H13 Q14.2 2.8 14.2 4 V8.8 Q14.2 10 13 10 H8 L5.2 12.8 V10 H4.6 Q3.4 10 3.4 8.8 V4 Q3.4 2.8 4.6 2.8 Z" fill="none" stroke="#999" stroke-width="1.1"/><path d="M8.8 4.4 V8.4 M6.8 6.4 H10.8" stroke="#999" stroke-width="1"/><path d="M1.5 8.2 Q0.6 8.2 0.6 7.2 V3" fill="none" stroke="#aaa" stroke-width="1"/></svg>
<svg class="abs" style="left:1006.5px;top:619.8px" width="13" height="13" viewBox="0 0 13 13"><circle cx="6.5" cy="6.5" r="5.7" fill="none" stroke="#999" stroke-width="1.1"/><circle cx="4.5" cy="5" r="0.8" fill="#999"/><circle cx="8.5" cy="5" r="0.8" fill="#999"/><path d="M3.4 7.4 H9.6 C9.2 9.4 8 10.2 6.5 10.2 C5 10.2 3.8 9.4 3.4 7.4 Z" fill="#999"/></svg>
</body></html>
